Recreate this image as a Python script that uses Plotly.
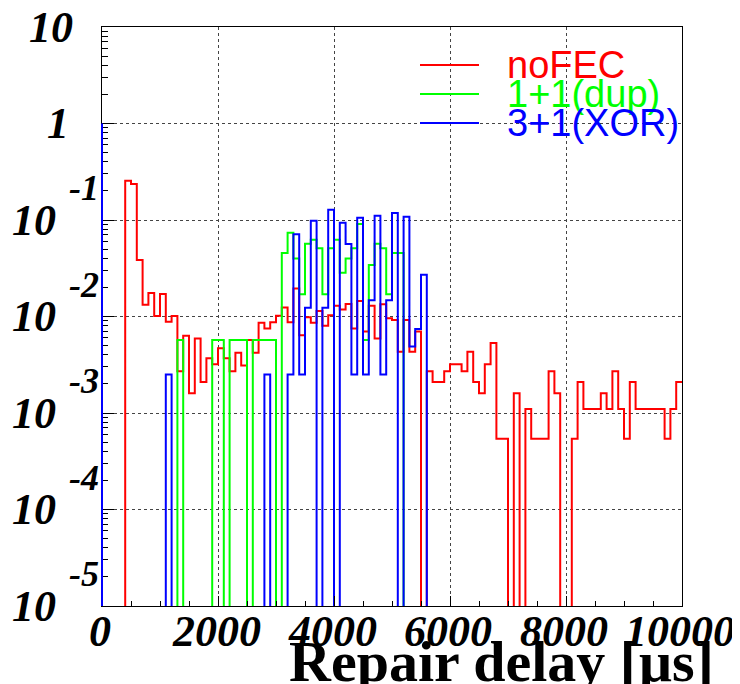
import numpy as np
import plotly.graph_objects as go

# ---------------- data ----------------
bin_lo_us, bin_hi_us, n_bins = 0, 10000, 100

nofec = [
    0, 0, 0, 0, 0.255, 0.236, 0.0385, 0.0132, 0.0175, 0.0101,
    0.0171, 0.0088, 0.0101, 0.0027, 0.0063, 0.0016, 0.0059, 0.0021, 0.0037, 0.0032,
    0.0047, 0.0037, 0.0027, 0.0042, 0.0031, 0.0057, 0.0042, 0.0086, 0.0075, 0.0087,
    0.0102, 0.0124, 0.0087, 0.0195, 0.0064, 0.0098, 0.0086, 0.0114, 0.0080, 0.0103,
    0.0129, 0.0118, 0.0135, 0.0075, 0.0145, 0.0070, 0.0129, 0.0059, 0.0134, 0.0096,
    0.0092, 0.0043, 0.0092, 0.0043, 0.0070, 0, 0.0027, 0.0021, 0.0021, 0.0027,
    0.0032, 0.0032, 0.0027, 0.0043, 0.0021, 0.0016, 0.0032, 0.0053, 0.00054, 0.00054,
    0, 0.0016, 0, 0.0011, 0.00054, 0.00054, 0.00054, 0.0027, 0.0016, 0,
    0, 0.00054, 0.0021, 0.0011, 0.0011, 0.0011, 0.0016, 0.0011, 0.0027, 0.0011,
    0.00054, 0.0021, 0.0011, 0.0011, 0.0011, 0.0011, 0.0011, 0.00054, 0.0011, 0.0021,
]

dup = [
    0, 0, 0, 0, 0, 0, 0, 0, 0, 0,
    0, 0, 0, 0.0057, 0, 0, 0, 0, 0, 0.0057,
    0.0057, 0, 0.0057, 0.0057, 0.0057, 0, 0.0057, 0.0057, 0.0057, 0.0057,
    0, 0.0455, 0.0739, 0.0398, 0.0170, 0.0568, 0.0625, 0.0511, 0.0170, 0.0511,
    0.0625, 0.0284, 0.0398, 0.0511, 0.0909, 0.0057, 0.0341, 0.0568, 0.0511, 0.0170,
    0.0455, 0.0455, 0, 0, 0, 0, 0, 0, 0, 0,
    0, 0, 0, 0, 0, 0, 0, 0, 0, 0,
    0, 0, 0, 0, 0, 0, 0, 0, 0, 0,
    0, 0, 0, 0, 0, 0, 0, 0, 0, 0,
    0, 0, 0, 0, 0, 0, 0, 0, 0, 0,
]

xor = [
    0, 0, 0, 0, 0, 0, 0, 0, 0, 0,
    0, 0.0025, 0, 0, 0, 0, 0, 0, 0, 0,
    0, 0, 0, 0, 0, 0, 0, 0, 0.0025, 0,
    0, 0, 0.0025, 0.0713, 0.0025, 0.0123, 0.0983, 0, 0.0123, 0.1278,
    0, 0.0934, 0.0565, 0.0025, 0.1057, 0.0025, 0.0147, 0.1106, 0.0025, 0.0147,
    0.1179, 0, 0.1081, 0.0049, 0.0074, 0.0270, 0, 0, 0, 0,
    0, 0, 0, 0, 0, 0, 0, 0, 0, 0,
    0, 0, 0, 0, 0, 0, 0, 0, 0, 0,
    0, 0, 0, 0, 0, 0, 0, 0, 0, 0,
    0, 0, 0, 0, 0, 0, 0, 0, 0, 0,
]

series_names = ["noFEC", "1+1(dup)", "3+1(XOR)"]
series_values = [nofec, dup, xor]
series_colors = ["#ff0000", "#00ff00", "#0000ff"]

x_tick_vals = [0, 2000, 4000, 6000, 8000, 10000]
x_tick_text = ["0", "2000", "4000", "6000", "8000", "10000"]
y_exponents = [1, 0, -1, -2, -3, -4, -5]
x_title = "Repair delay [μs]"

# ---------------- figure ----------------
edges = np.linspace(bin_lo_us, bin_hi_us, n_bins + 1)
LOG_FLOOR = 1e-12  # empty bins drop below the visible log range (as ROOT draws them)


def step_xy(vals):
    v = np.asarray(vals, dtype=float)
    v = np.where(v > 0, v, LOG_FLOOR)
    return np.append(edges[:-1], edges[-1]), np.append(v, v[-1])


fig = go.Figure()
for name, vals, col in zip(series_names, series_values, series_colors):
    sx, sy = step_xy(vals)
    fig.add_trace(go.Scatter(x=sx, y=sy, mode="lines", name=name,
                             line=dict(color=col, width=2, shape="hv"),
                             showlegend=False, hoverinfo="skip"))

W, H = 740, 684
PAGE_OFF = 8                      # default body margin of the html page
BOX = (102, 27, 682, 606)         # plot box in window pixels: left, top, right, bottom
L, T = BOX[0] - PAGE_OFF, BOX[1] - PAGE_OFF
R, B = W - (BOX[2] - PAGE_OFF), H - (BOX[3] - PAGE_OFF)
pw, ph = BOX[2] - BOX[0], BOX[3] - BOX[1]


def px_x(p):  # window pixel -> paper x
    return (p - BOX[0]) / pw


def px_y(p):  # window pixel -> paper y
    return (BOX[3] - p) / ph


label_font = dict(family="Liberation Serif", size=44, color="black",
                  weight="bold", style="italic")
exp_font = dict(family="Liberation Serif", size=36, color="black",
                weight="bold", style="italic")

annotations = []
for e in y_exponents:
    if e == 1:
        annotations.append(dict(text="10", x=px_x(75), xref="paper", xanchor="right",
                                y=e, yref="y", yanchor="middle", showarrow=False,
                                font=label_font))
    elif e == 0:
        annotations.append(dict(text="1", x=px_x(71), xref="paper", xanchor="right",
                                y=e, yref="y", yanchor="middle", showarrow=False,
                                font=label_font))
    else:
        annotations.append(dict(text="10", x=px_x(58), xref="paper", xanchor="right",
                                y=e, yref="y", yanchor="middle", showarrow=False,
                                font=label_font))
        annotations.append(dict(text=str(e), x=px_x(101), xref="paper", xanchor="right",
                                y=e, yref="y", yanchor="middle", yshift=32,
                                showarrow=False, font=exp_font))

for xv, xt in zip(x_tick_vals, x_tick_text):
    annotations.append(dict(text=xt, x=xv, xref="x", xanchor="center", xshift=-2,
                            y=px_y(631), yref="paper", yanchor="middle",
                            showarrow=False, font=label_font))

annotations.append(dict(text=x_title, x=px_x(716), xref="paper", xanchor="right",
                        y=px_y(661), yref="paper", yanchor="middle", showarrow=False,
                        font=dict(family="Liberation Serif", size=58, color="black",
                                  weight="bold")))

legend_rows_px = [65, 94, 123]
shapes = []
for name, col, yp in zip(series_names, series_colors, legend_rows_px):
    shapes.append(dict(type="line", xref="paper", yref="paper",
                       x0=px_x(420), x1=px_x(479), y0=px_y(yp), y1=px_y(yp),
                       line=dict(color=col, width=2)))
    annotations.append(dict(text=name, x=px_x(505), xref="paper", xanchor="left",
                            y=px_y(yp), yref="paper", yanchor="middle", showarrow=False,
                            font=dict(family="Liberation Sans", size=38, color=col)))

# blue edge along the left frame below 1 (drawn by the XOR histogram in the original)
shapes.append(dict(type="line", xref="paper", yref="y domain", x0=0, x1=0,
                   y0=0, y1=5 / 6, line=dict(color="#0000ff", width=2)))

minor_y = [k * 10.0 ** n for n in range(-5, 1) for k in range(2, 10)]

fig.update_layout(
    width=W, height=H,
    margin=dict(l=L, r=R, t=T, b=B, autoexpand=False),
    plot_bgcolor="white", paper_bgcolor="white",
    annotations=annotations, shapes=shapes,
    xaxis=dict(range=[bin_lo_us, bin_hi_us], tickvals=x_tick_vals, showticklabels=False,
               ticks="inside", ticklen=10, tickcolor="black", tickwidth=1,
               showline=True, linecolor="black", linewidth=1, mirror=True,
               showgrid=True, gridcolor="#444", gridwidth=1, griddash="dot",
               zeroline=False, automargin=False,
               minor=dict(dtick=500, tick0=0, ticks="inside", ticklen=5,
                          tickcolor="black", showgrid=False)),
    yaxis=dict(type="log", range=[-5, 1],
               tickvals=[10.0 ** e for e in y_exponents], showticklabels=False,
               ticks="inside", ticklen=12, tickcolor="black", tickwidth=1,
               showline=True, linecolor="black", linewidth=1, mirror=True,
               showgrid=True, gridcolor="#444", gridwidth=1, griddash="dot",
               zeroline=False, automargin=False,
               minor=dict(tickvals=minor_y, ticks="inside", ticklen=6,
                          tickcolor="black", showgrid=False)),
)

fig.write_html("out.html")
